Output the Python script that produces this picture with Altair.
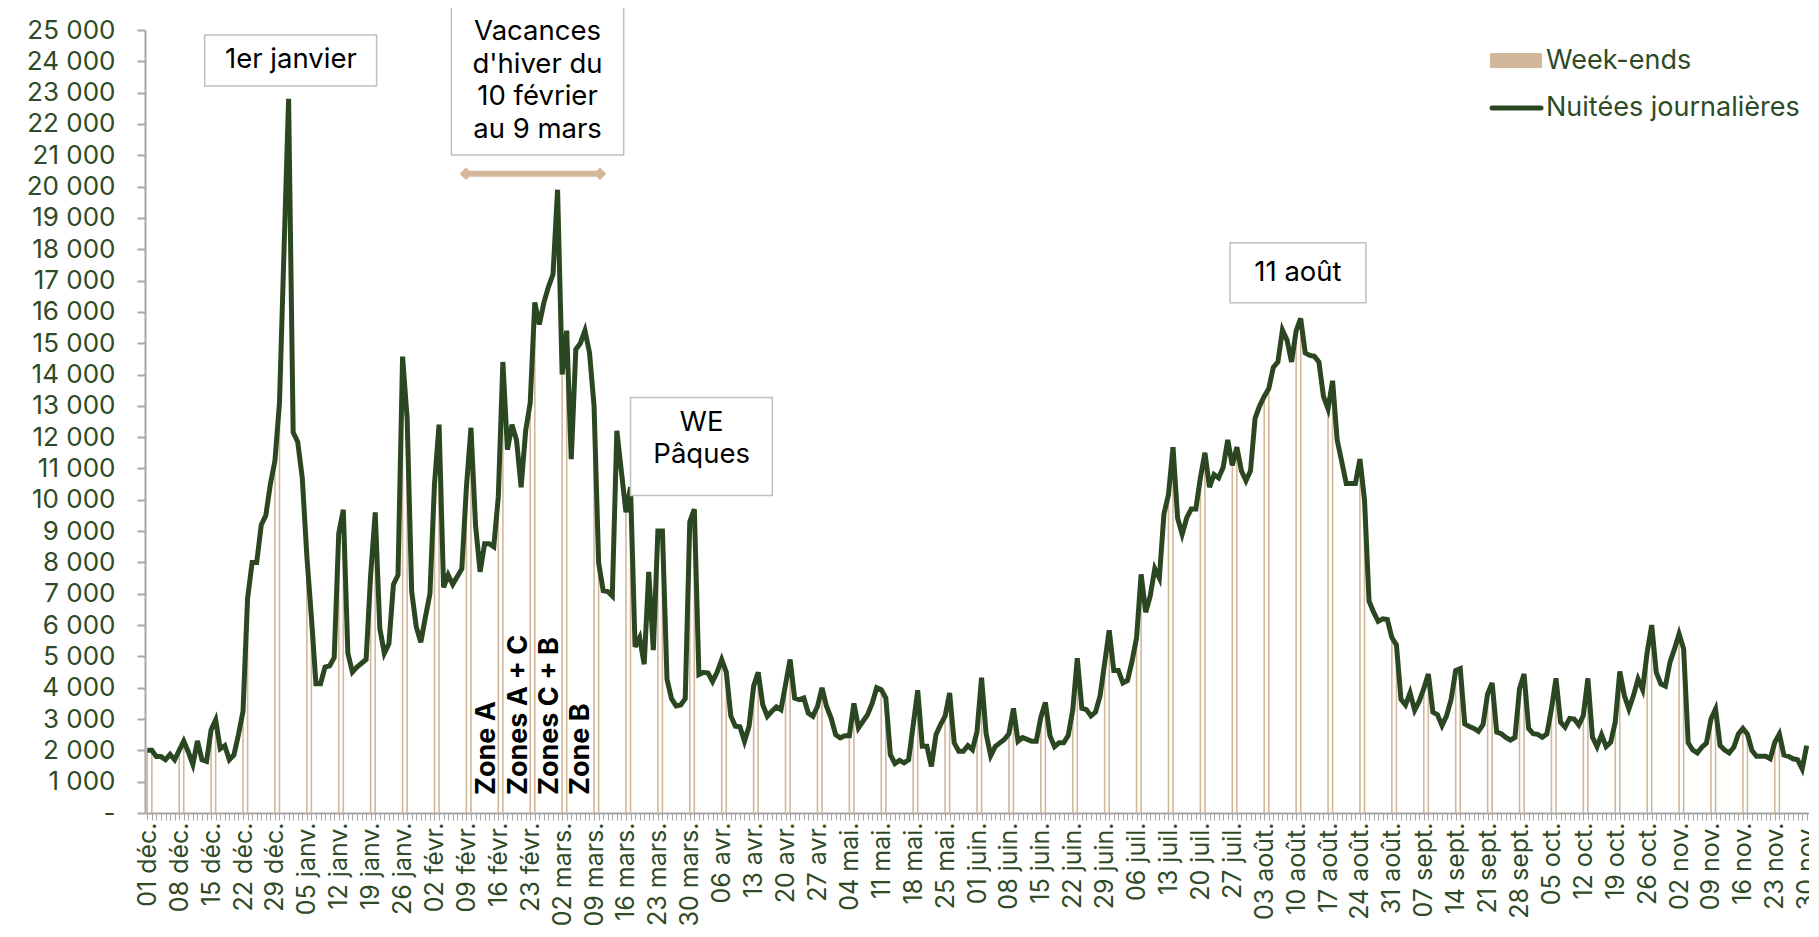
import altair as alt
import pandas as pd

# ---------------- data (daily values, 01 déc. -> 30 nov.) ----------------
dec = [2000, 2000, 1800, 1800, 1700, 1870, 1700, 2000, 2300, 1950, 1550, 2300, 1700, 1650,
       2650, 2970, 2050, 2150, 1700, 1850, 2500, 3250, 6850, 8000, 8000, 9200, 9500, 10500,
       11250, 13100, 18000]
jan = [22800, 12150, 11850, 10700, 8200, 6250, 4130, 4130, 4660, 4700, 4960, 8930, 9680,
       5100, 4500, 4660, 4780, 4900, 7600, 9600, 5900, 5100, 5400, 7300, 7600, 14570, 12600,
       7070, 5950, 5450, 6250]
feb = [7000, 10500, 12400, 7200, 7600, 7300, 7550, 7800, 10400, 12300, 9200, 7700, 8600,
       8600, 8500, 10100, 14400, 11600, 12400, 11900, 10400, 12200, 13100, 16300, 15600,
       16300, 16800, 17200]
mar = [19900, 14000, 15400, 11300, 14800, 15000, 15400, 14700, 13000, 8000, 7100, 7070,
       6930, 12200, 10900, 9600, 10400, 5300, 5600, 4750, 7700, 5200, 9000, 9000, 4270, 3650,
       3420, 3450, 3650, 9300, 9700]
apr = [4420, 4490, 4470, 4200, 4500, 4900, 4500, 3100, 2770, 2750, 2290, 2770, 4050, 4490,
       3460, 3090, 3250, 3390, 3300, 4100, 4900, 3670, 3620, 3670, 3190, 3090, 3400, 4000,
       3400, 3030]
may = [2500, 2400, 2470, 2470, 3500, 2720, 2930, 3140, 3500, 4000, 3940, 3670, 1860, 1580,
       1680, 1600, 1700, 2800, 3920, 2130, 2130, 1490, 2500, 2820, 3090, 3830, 2240, 1970,
       1970, 2150, 2020]
jun = [2600, 4320, 2530, 1830, 2120, 2240, 2350, 2530, 3340, 2290, 2410, 2350, 2290, 2290,
       3050, 3530, 2470, 2120, 2240, 2240, 2470, 3280, 4940, 3340, 3300, 3100, 3220, 3740,
       4790, 5830]
jul = [4550, 4550, 4150, 4230, 4840, 5600, 7620, 6410, 6930, 7800, 7500, 9540, 10170, 11680,
       9420, 8900, 9420, 9710, 9710, 10700, 11500, 10400, 10810, 10700, 11040, 11910, 11100,
       11680, 10930, 10610, 10930]
aug = [12600, 13000, 13300, 13550, 14230, 14400, 15420, 15100, 14400, 15390, 15790, 14690,
       14610, 14580, 14400, 13300, 12900, 13800, 11910, 11220, 10520, 10520, 10520, 11300,
       10000, 6760, 6410, 6120, 6200, 6180, 5600]
sep = [5370, 3630, 3450, 3840, 3280, 3570, 3970, 4440, 3220, 3140, 2790, 3100, 3630, 4550,
       4610, 2840, 2760, 2700, 2610, 2820, 3800, 4150, 2580, 2530, 2410, 2330, 2410, 3970,
       4440, 2700]
octo = [2530, 2510, 2420, 2520, 3320, 4300, 2900, 2740, 3020, 3000, 2810, 3110, 4300, 2420,
        2120, 2500, 2120, 2260, 2900, 4520, 3750, 3320, 3750, 4280, 3940, 5130, 6000, 4490,
        4120, 4050, 4810]
nov = [5240, 5720, 5240, 2240, 2010, 1920, 2100, 2230, 3000, 3320, 2150, 2010, 1920, 2100,
       2520, 2700, 2520, 1990, 1810, 1810, 1810, 1730, 2260, 2520, 1850, 1810, 1730, 1700,
       1410, 2150]

values = dec + jan + feb + mar + apr + may + jun + jul + aug + sep + octo + nov
N = len(values)

x_labels = ["01 déc.", "08 déc.", "15 déc.", "22 déc.", "29 déc.", "05 janv.", "12 janv.",
            "19 janv.", "26 janv.", "02 févr.", "09 févr.", "16 févr.", "23 févr.", "02 mars.",
            "09 mars.", "16 mars.", "23 mars.", "30 mars.", "06 avr.", "13 avr.", "20 avr.",
            "27 avr.", "04 mai.", "11 mai.", "18 mai.", "25 mai.", "01 juin.", "08 juin.",
            "15 juin.", "22 juin.", "29 juin.", "06 juil.", "13 juil.", "20 juil.", "27 juil.",
            "03 août.", "10 août.", "17 août.", "24 août.", "31 août.", "07 sept.", "14 sept.",
            "21 sept.", "28 sept.", "05 oct.", "12 oct.", "19 oct.", "26 oct.", "02 nov.",
            "09 nov.", "16 nov.", "23 nov.", "30 nov."]
y_ticks = list(range(0, 25001, 1000))

# annotation boxes (index units, value units)
box_x1 = [12.6, 66.7, 106.0, 237.5]
box_x2 = [50.3, 104.5, 137.1, 267.3]
box_y1 = [23210, 21010, 10140, 16290]
box_y2 = [24840, 25780, 13265, 18210]

note_text = ["1er janvier", "Vacances", "d'hiver du", "10 février", "au 9 mars", "WE", "Pâques", "11 août"]
note_x = [31.5, 85.6, 85.6, 85.6, 85.6, 121.6, 121.6, 252.4]
note_y = [24030, 24940, 23880, 22860, 21810, 12440, 11420, 17250]

zone_text = ["Zone A", "Zones A + C", "Zones C + B", "Zone B"]
zone_x = [74.6, 81.5, 88.3, 95.2]
zone_y = [574, 574, 574, 574]

arrow_x = [69.9, 99.3]
arrow_y = [20410, 20410]

# ---------------- styling ----------------
LINE = "#2B4722"
TAN = "#D3B79B"
TXT = "#2F4A26"
GREY = "#A6A6A6"
FONT = "Inter"

df = pd.DataFrame({"i": list(range(N)), "v": values})
df["z"] = 0
we = df[(df["i"] % 7 <= 1) & (df["i"] < N - 1)]

xs = alt.Scale(domain=[-0.5, N - 0.5], nice=False, zero=False)
ys = alt.Scale(domain=[0, 25000], nice=False)

lab_arr = "[" + ",".join("'" + s + "'" for s in x_labels) + "]"

x_axis = alt.Axis(values=list(range(N)),
                  labelExpr=f"datum.value % 7 == 0 ? {lab_arr}[datum.value / 7] : ''",
                  labelAngle=270, labelFont=FONT, labelFontSize=25, labelColor=TXT,
                  labelOverlap=False, labelFlush=False, labelPadding=2,
                  tickSize=7, tickColor=GREY, tickWidth=1,
                  domainColor=GREY, domainWidth=2, grid=False, title=None)
y_axis = alt.Axis(values=y_ticks,
                  labelExpr="datum.value == 0 ? '-' : replace(format(datum.value, ','), ',', ' ')",
                  labelFont=FONT, labelFontSize=26, labelColor=TXT, labelPadding=22,
                  labelOverlap=False, labelFlush=False,
                  tickSize=8, tickColor=GREY, tickWidth=2,
                  domainColor=GREY, domainWidth=2, grid=False, title=None)


def X(field):
    return alt.X(field, scale=xs, axis=x_axis, title=None)


def Y(field):
    return alt.Y(field, scale=ys, axis=y_axis, title=None)


bars = alt.Chart(we).mark_rule(color=TAN, strokeWidth=1.6).encode(
    x=X("i:Q"), y=Y("v:Q"), y2="z:Q",
)

line = alt.Chart(df).mark_line(color=LINE, strokeWidth=5).encode(
    x=X("i:Q"), y=Y("v:Q"),
)

boxes_df = pd.DataFrame({"x1": box_x1, "x2": box_x2, "y1": box_y1, "y2": box_y2})
boxes = alt.Chart(boxes_df).mark_rect(fill="white", stroke="#BFBFBF", strokeWidth=1.5).encode(
    x=X("x1:Q"), x2="x2:Q", y=Y("y1:Q"), y2="y2:Q",
)

notes_df = pd.DataFrame({"x": note_x, "y": note_y, "t": note_text})
notes = alt.Chart(notes_df).mark_text(font=FONT, fontSize=27.5, color="black",
                                      align="center", baseline="middle").encode(
    x=X("x:Q"), y=Y("y:Q"), text="t:N",
)

zones_df = pd.DataFrame({"x": zone_x, "y": zone_y, "t": zone_text})
zones = alt.Chart(zones_df).mark_text(font=FONT, fontSize=27, fontWeight="bold", color="black",
                                      angle=270, align="left", baseline="middle").encode(
    x=X("x:Q"), y=Y("y:Q"), text="t:N",
)

arrow_df = pd.DataFrame({"x": arrow_x, "y": arrow_y})
arrow_line = alt.Chart(arrow_df).mark_line(color=TAN, strokeWidth=6).encode(
    x=X("x:Q"), y=Y("y:Q"),
)
arrow_heads = alt.Chart(arrow_df).mark_point(shape="diamond", filled=True, color=TAN,
                                             opacity=1, size=160).encode(
    x=X("x:Q"), y=Y("y:Q"),
)

one = pd.DataFrame({"k": [0]})
leg_rect = alt.Chart(one).mark_rect(color=TAN).encode(
    x=alt.value(1345), x2=alt.value(1397), y=alt.value(23), y2=alt.value(38))
leg_line = alt.Chart(one).mark_rule(color=LINE, strokeWidth=5, strokeCap="round").encode(
    x=alt.value(1347), x2=alt.value(1396), y=alt.value(78))
leg_t1 = alt.Chart(one).mark_text(font=FONT, fontSize=27, color=TXT, align="left",
                                  baseline="middle", text="Week-ends").encode(
    x=alt.value(1401), y=alt.value(31))
leg_t2 = alt.Chart(one).mark_text(font=FONT, fontSize=27, color=TXT, align="left",
                                  baseline="middle", text="Nuitées journalières").encode(
    x=alt.value(1401), y=alt.value(78))

chart = alt.layer(
    bars, line, boxes, notes, zones, arrow_line, arrow_heads,
    leg_rect, leg_line, leg_t1, leg_t2,
).properties(
    width=1664, height=783,
    autosize=alt.AutoSizeParams(type="none"),
    padding={"left": 137, "top": 22, "right": 0, "bottom": 112},
).configure_view(stroke=None)

chart.save("out.html", embed_options={"renderer": "svg", "actions": False})
